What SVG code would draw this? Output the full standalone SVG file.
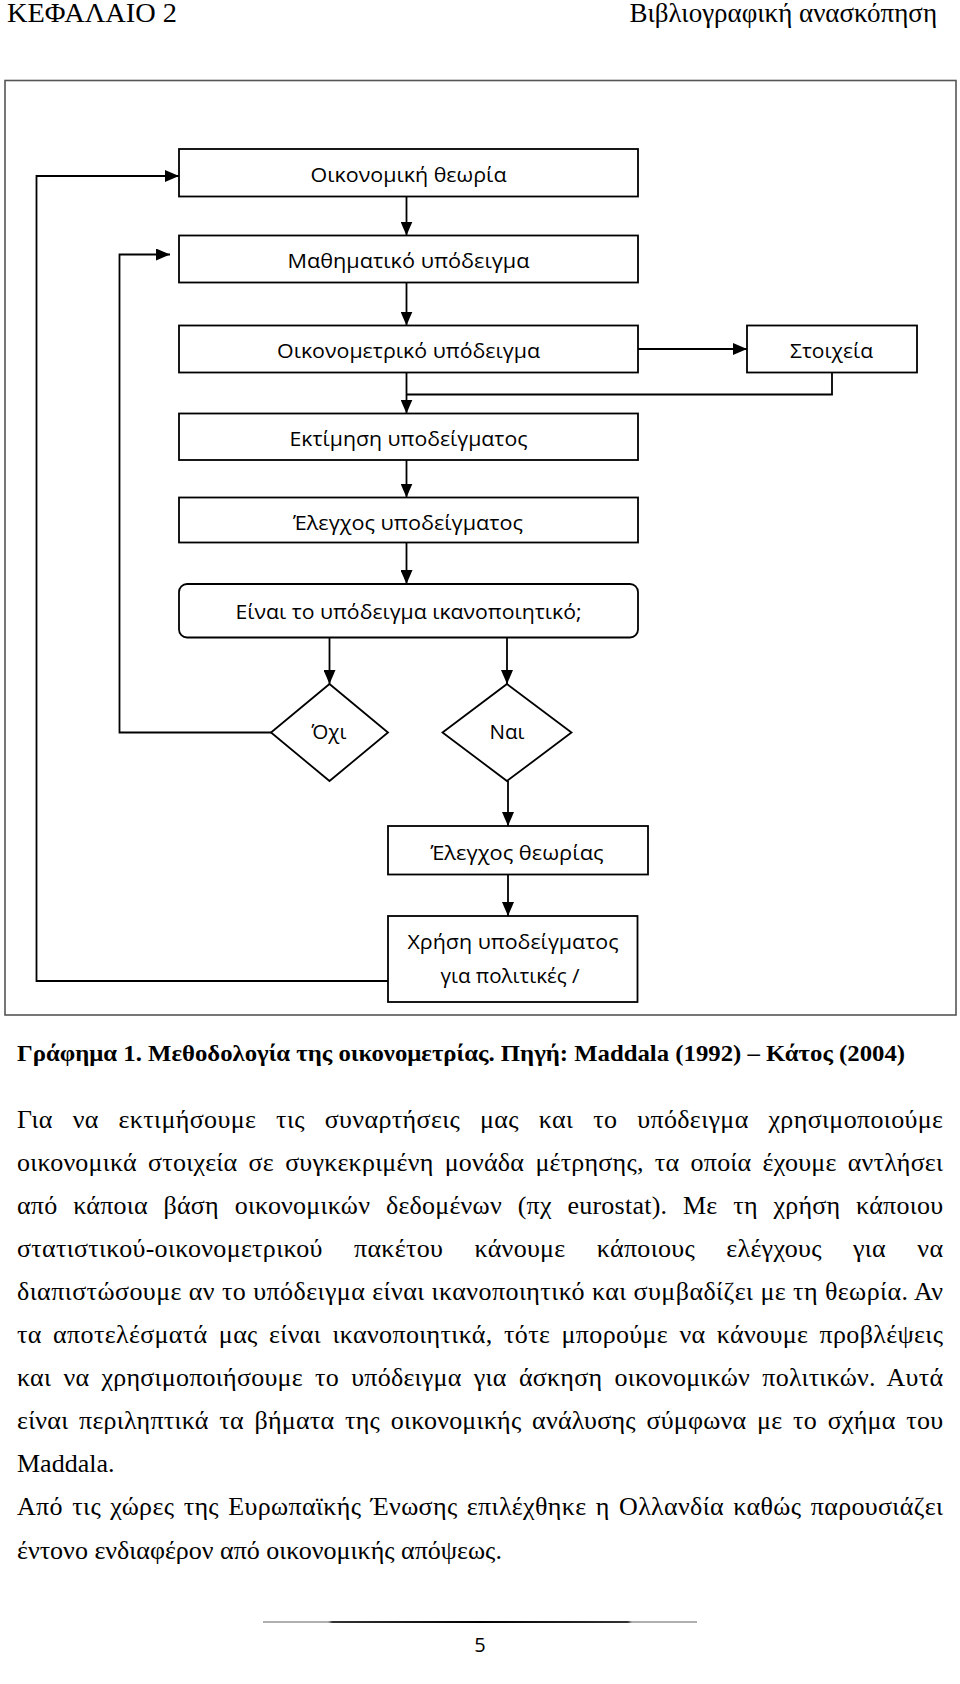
<svg xmlns="http://www.w3.org/2000/svg" width="960" height="1684" viewBox="0 0 960 1684">
<defs>
<marker id="ah" viewBox="0 0 14 12" refX="14" refY="6" markerWidth="14" markerHeight="12" markerUnits="userSpaceOnUse" orient="auto"><path d="M0,0 L14,6 L0,12 z" fill="#000"/></marker>
<linearGradient id="fl" x1="0" x2="1" y1="0" y2="0">
<stop offset="0" stop-color="#b0b0b0"/><stop offset="0.15" stop-color="#b0b0b0"/><stop offset="0.16" stop-color="#333"/><stop offset="0.5" stop-color="#000"/><stop offset="0.84" stop-color="#333"/><stop offset="0.85" stop-color="#b0b0b0"/><stop offset="1" stop-color="#b0b0b0"/>
</linearGradient>
</defs>
<style>
.box{fill:#fff;stroke:#000;stroke-width:1.8}
.lbl{font-family:"Open Sans","Noto Sans",sans-serif;font-size:20px;fill:#000;text-anchor:middle}
.con{fill:none;stroke:#000;stroke-width:1.8}
.body{font-family:"Liberation Serif","Times New Roman",serif;font-size:26px;fill:#000}
.cap{font-family:"Liberation Serif","Times New Roman",serif;font-size:24px;font-weight:bold;fill:#000}
.hdr{font-family:"Liberation Serif","Times New Roman",serif;font-size:27px;fill:#000}
</style>
<rect width="960" height="1684" fill="#fff"/>
<g id="header">
<text class="hdr" x="7" y="22" textLength="170" lengthAdjust="spacingAndGlyphs">ΚΕΦΑΛΑΙΟ 2</text>
<text class="hdr" x="937" y="22" text-anchor="end">Βιβλιογραφική ανασκόπηση</text>
</g>
<rect id="frame" x="5" y="80.5" width="951" height="934.5" fill="none" stroke="#555" stroke-width="1.6"/>
<g id="connectors">
<path class="con" d="M406.5,196.5 V235.5" marker-end="url(#ah)"/>
<path class="con" d="M406.5,282.5 V325.5" marker-end="url(#ah)"/>
<path class="con" d="M638,349 H747" marker-end="url(#ah)"/>
<path class="con" d="M406.5,372.5 V413.5" marker-end="url(#ah)"/>
<path class="con" d="M832,372.5 V394.5 H406.5" stroke-width="1.4"/>
<path class="con" d="M406.5,460 V497.5" marker-end="url(#ah)"/>
<path class="con" d="M406.5,542.5 V584" marker-end="url(#ah)"/>
<path class="con" d="M329.5,637.5 V684" marker-end="url(#ah)"/>
<path class="con" d="M507,637.5 V684" marker-end="url(#ah)"/>
<path class="con" d="M271,732.5 H119.5 V254.5 H170" marker-end="url(#ah)"/>
<path class="con" d="M508,781 V826" marker-end="url(#ah)"/>
<path class="con" d="M508,874.5 V916" marker-end="url(#ah)"/>
<path class="con" d="M388,981 H36.5 V176 H179" marker-end="url(#ah)"/>
</g>
<g id="n1"><rect class="box" x="179" y="149" width="459" height="47.5"/><text class="lbl" x="408.5" y="182" textLength="196" lengthAdjust="spacingAndGlyphs">Οικονομική θεωρία</text></g>
<g id="n2"><rect class="box" x="179" y="235.5" width="459" height="47"/><text class="lbl" x="408.5" y="268" textLength="242" lengthAdjust="spacingAndGlyphs">Μαθηματικό υπόδειγμα</text></g>
<g id="n3"><rect class="box" x="179" y="325.5" width="459" height="47"/><text class="lbl" x="408.5" y="358" textLength="263" lengthAdjust="spacingAndGlyphs">Οικονομετρικό υπόδειγμα</text></g>
<g id="n_data"><rect class="box" x="747" y="325.5" width="170" height="47"/><text class="lbl" x="831.5" y="358" textLength="83" lengthAdjust="spacingAndGlyphs">Στοιχεία</text></g>
<g id="n4"><rect class="box" x="179" y="413.5" width="459" height="46.5"/><text class="lbl" x="408.5" y="446" textLength="238" lengthAdjust="spacingAndGlyphs">Εκτίμηση υποδείγματος</text></g>
<g id="n5"><rect class="box" x="179" y="497.5" width="459" height="45"/><text class="lbl" x="408" y="529.5" textLength="230" lengthAdjust="spacingAndGlyphs">Έλεγχος υποδείγματος</text></g>
<g id="n6"><rect class="box" x="179" y="584" width="459" height="53.5" rx="8" ry="8"/><text class="lbl" x="408.5" y="619" textLength="346" lengthAdjust="spacingAndGlyphs">Είναι το υπόδειγμα ικανοποιητικό;</text></g>
<g id="n_no"><polygon class="box" points="329.5,684 388,732.5 329.5,781 271,732.5"/><text class="lbl" x="329" y="738.5" textLength="35" lengthAdjust="spacingAndGlyphs">Όχι</text></g>
<g id="n_yes"><polygon class="box" points="507,684 571.5,732.5 507,781 442.5,732.5"/><text class="lbl" x="507" y="738.5" textLength="35" lengthAdjust="spacingAndGlyphs">Ναι</text></g>
<g id="n7"><rect class="box" x="388" y="826" width="260" height="48.5"/><text class="lbl" x="517" y="860" textLength="173" lengthAdjust="spacingAndGlyphs">Έλεγχος θεωρίας</text></g>
<g id="n8"><rect class="box" x="388" y="916" width="249.5" height="86"/><text class="lbl" x="513" y="948.5" textLength="211" lengthAdjust="spacingAndGlyphs">Χρήση υποδείγματος</text><text class="lbl" x="510" y="983" textLength="139" lengthAdjust="spacingAndGlyphs">για πολιτικές /</text></g>
<g id="caption">
<text class="cap" x="17" y="1061" textLength="888" lengthAdjust="spacingAndGlyphs">Γράφημα 1. Μεθοδολογία της οικονομετρίας. Πηγή: Maddala (1992) – Κάτος (2004)</text>
</g>
<g id="paragraph">
<text class="body" x="17" y="1127.5" word-spacing="13" textLength="926" lengthAdjust="spacing">Για να εκτιμήσουμε τις συναρτήσεις μας και το υπόδειγμα χρησιμοποιούμε</text>
<text class="body" x="17" y="1170.6" word-spacing="4.5" textLength="926" lengthAdjust="spacing">οικονομικά στοιχεία σε συγκεκριμένη μονάδα μέτρησης, τα οποία έχουμε αντλήσει</text>
<text class="body" x="17" y="1213.7" word-spacing="9" textLength="926" lengthAdjust="spacing">από κάποια βάση οικονομικών δεδομένων (πχ eurostat). Με τη χρήση κάποιου</text>
<text class="body" x="17" y="1256.8" word-spacing="24.5" textLength="926" lengthAdjust="spacing">στατιστικού-οικονομετρικού πακέτου κάνουμε κάποιους ελέγχους για να</text>
<text class="body" x="17" y="1299.9" textLength="926" lengthAdjust="spacing">διαπιστώσουμε αν το υπόδειγμα είναι ικανοποιητικό και συμβαδίζει με τη θεωρία. Αν</text>
<text class="body" x="17" y="1343" word-spacing="4.5" textLength="926" lengthAdjust="spacing">τα αποτελέσματά μας είναι ικανοποιητικά, τότε μπορούμε να κάνουμε προβλέψεις</text>
<text class="body" x="17" y="1386.1" word-spacing="5.5" textLength="926" lengthAdjust="spacing">και να χρησιμοποιήσουμε το υπόδειγμα για άσκηση οικονομικών πολιτικών. Αυτά</text>
<text class="body" x="17" y="1429.2" word-spacing="4" textLength="926" lengthAdjust="spacing">είναι περιληπτικά τα βήματα της οικονομικής ανάλυσης σύμφωνα με το σχήμα του</text>
<text class="body" x="17" y="1472.3">Maddala.</text>
<text class="body" x="17" y="1515.4" word-spacing="2.5" textLength="926" lengthAdjust="spacing">Από τις χώρες της Ευρωπαϊκής Ένωσης επιλέχθηκε η Ολλανδία καθώς παρουσιάζει</text>
<text class="body" x="17" y="1558.5">έντονο ενδιαφέρον από οικονομικής απόψεως.</text>
</g>
<g id="footer">
<rect x="263" y="1621" width="434" height="2" fill="url(#fl)"/>
<text x="480" y="1652" font-family="'Open Sans','Noto Sans',sans-serif" font-size="20" text-anchor="middle" fill="#000">5</text>
</g>
</svg>
